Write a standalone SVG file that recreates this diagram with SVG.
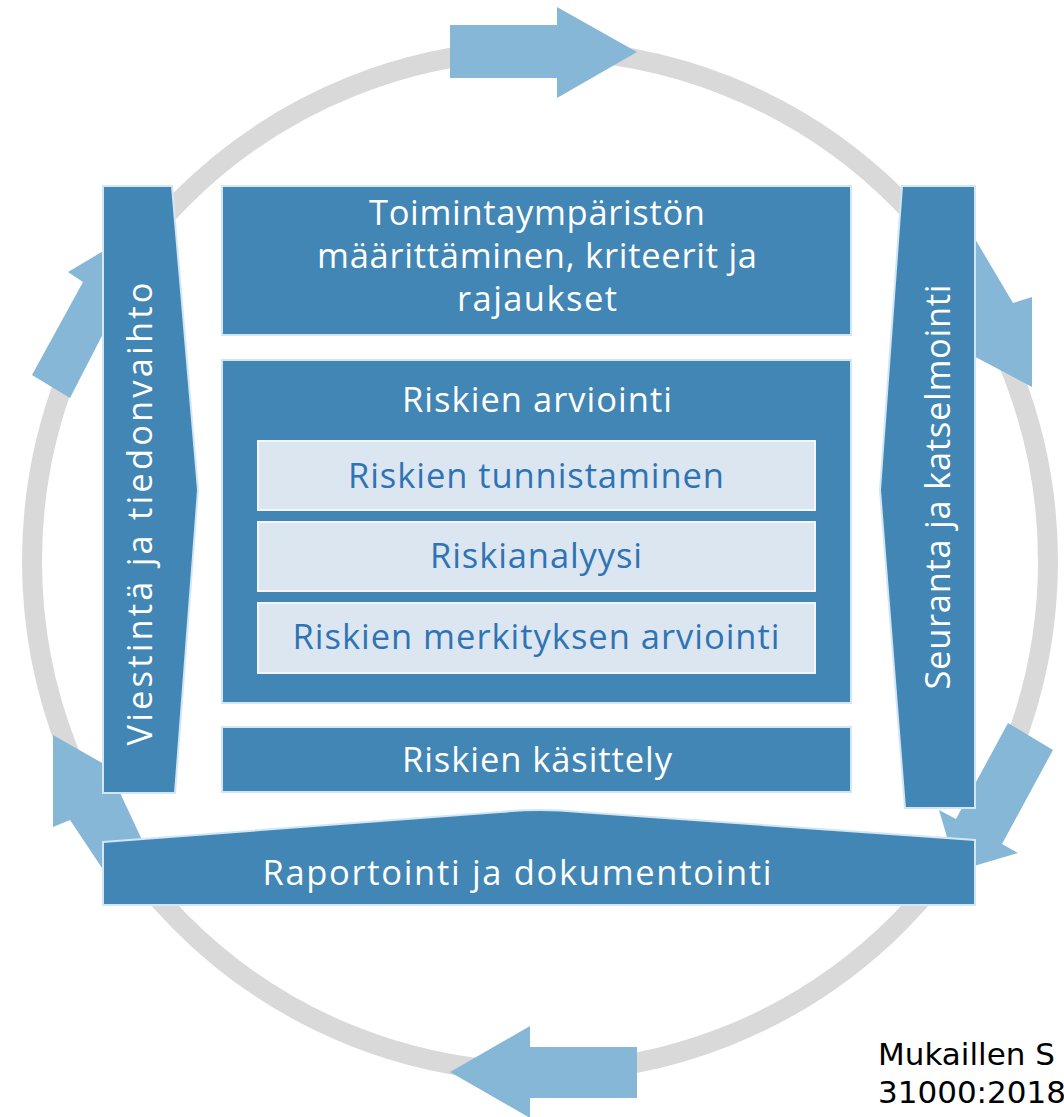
<svg xmlns="http://www.w3.org/2000/svg" width="1064" height="1117" viewBox="0 0 1064 1117">
<style>
.panel{fill:#4186b5;stroke:#d3e6f4;stroke-width:2}
.inner{fill:#dce6f0;stroke:#f2f6fa;stroke-width:2}
.arrow{fill:#86b7d7}
.ring{fill:none;stroke:#d9d9d9;stroke-width:20}
.t{font-family:"Open Sans","Noto Sans",sans-serif;font-size:34.5px;fill:#ffffff;text-anchor:middle}
.ti{font-family:"Open Sans","Noto Sans",sans-serif;font-size:34.5px;fill:#2e74b5;text-anchor:middle}
.cap{font-family:"DejaVu Sans",Verdana,sans-serif;font-size:31px;fill:#000000}
</style>
<rect width="1064" height="1117" fill="#ffffff"/>
<g id="connectors">
  <ellipse class="ring" cx="540" cy="561" rx="508" ry="511"/>
  <polygon class="arrow" points="450,25 557,25 557,7 637,52 557,98 557,78 450,78"/>
  <polygon class="arrow" points="968,227 1013,303 1032,297 1032,387 968,353"/>
  <polygon class="arrow" points="1008,723 1053,750 1002,844 1018,853 957,871 939,810 956,819"/>
  <polygon class="arrow" points="637,1047 530,1047 530,1026 450,1072 530,1118 530,1098 637,1098"/>
  <polygon class="arrow" points="53,735 125,776 115,782 150,857 110,880 70,820 53,827"/>
  <polygon class="arrow" points="110,247 68,272 83,282 32,375 70,398 106,328"/>
</g>
<g id="viestinta">
  <path class="panel" d="M103,186 H172 L198,490 L175,793 H103 Z"/>
  <text class="t" transform="translate(152,514) rotate(-90)" textLength="463" lengthAdjust="spacing">Viestintä ja tiedonvaihto</text>
</g>
<g id="seuranta">
  <path class="panel" d="M902,186 H975 V808 H905 L880,490 Z"/>
  <text class="t" transform="translate(950,487) rotate(-90)" textLength="405" lengthAdjust="spacing">Seuranta ja katselmointi</text>
</g>
<g id="raportointi">
  <path class="panel" d="M103,842 L500,812 Q540,808 580,812 L975,840 V905 H103 Z"/>
  <text class="t" x="517" y="885" textLength="509" lengthAdjust="spacing">Raportointi ja dokumentointi</text>
</g>
<g id="toimintaymparisto">
  <rect class="panel" x="222" y="186" width="629" height="149"/>
  <text class="t" x="537" y="225" textLength="336" lengthAdjust="spacing">Toimintaympäristön</text>
  <text class="t" x="537" y="268" textLength="440" lengthAdjust="spacing">määrittäminen, kriteerit ja</text>
  <text class="t" x="537" y="311" textLength="160" lengthAdjust="spacing">rajaukset</text>
</g>
<g id="arviointi">
  <rect class="panel" x="222" y="360" width="629" height="343"/>
  <text class="t" x="537" y="412" textLength="270" lengthAdjust="spacing">Riskien arviointi</text>
</g>
<g id="tunnistaminen">
  <rect class="inner" x="258" y="441" width="557" height="69"/>
  <text class="ti" x="536" y="488" textLength="376" lengthAdjust="spacing">Riskien tunnistaminen</text>
</g>
<g id="analyysi">
  <rect class="inner" x="258" y="522" width="557" height="69"/>
  <text class="ti" x="536" y="568" textLength="212" lengthAdjust="spacing">Riskianalyysi</text>
</g>
<g id="merkitys">
  <rect class="inner" x="258" y="603" width="557" height="70"/>
  <text class="ti" x="536" y="649" textLength="487" lengthAdjust="spacing">Riskien merkityksen arviointi</text>
</g>
<g id="kasittely">
  <rect class="panel" x="222" y="727" width="629" height="65"/>
  <text class="t" x="537" y="772" textLength="270" lengthAdjust="spacing">Riskien käsittely</text>
</g>
<g id="caption">
  <text class="cap" x="878" y="1065">Mukaillen S</text>
  <text class="cap" x="878" y="1103">31000:2018</text>
</g>
</svg>
